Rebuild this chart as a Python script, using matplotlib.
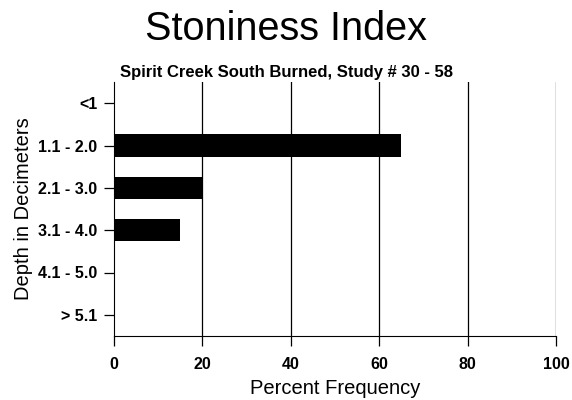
import matplotlib.pyplot as plt

plt.rcParams['font.family'] = ['Liberation Sans', 'DejaVu Sans']

# data
depths = ['<1', '1.1 - 2.0', '2.1 - 3.0', '3.1 - 4.0', '4.1 - 5.0', '> 5.1']
percent = [0, 65, 20, 15, 0, 0]
xticks = [0, 20, 40, 60, 80, 100]

fig = plt.figure(figsize=(5.72, 4.0), dpi=100)
ax = fig.add_axes([0.1993, 0.16, 0.7727, 0.635])

ypos = list(range(len(depths)))
ax.barh(ypos, percent, height=0.52, color='black', zorder=3)

ax.set_xlim(0, 100)
ax.set_ylim(5.5, -0.5)
ax.set_yticks(ypos)
ax.set_yticklabels(depths, fontsize=11.5, fontweight='bold')
ax.set_xticks(xticks)
ax.set_xticklabels([str(v) for v in xticks], fontsize=11.5, fontweight='bold')

# vertical grid lines
for v in xticks[1:]:
    ax.axvline(v, color='black', linewidth=0.9, zorder=1)

ax.spines['top'].set_visible(False)
ax.spines['right'].set_visible(False)
ax.tick_params(axis='y', direction='out', length=7, width=0.9, pad=5)
ax.tick_params(axis='x', direction='out', length=7, width=0.9, pad=8)

ax.set_xlabel('Percent Frequency', fontsize=14.5, labelpad=5)
ax.set_ylabel('Depth in Decimeters', fontsize=14.5, labelpad=4)

fig.text(0.5, 0.928, 'Stoniness Index', ha='center', va='center', fontsize=28.5)
fig.text(0.5, 0.82, 'Spirit Creek South Burned, Study # 30 - 58', ha='center',
         va='center', fontsize=12, fontweight='bold')

plt.savefig('out.png', dpi=100)
